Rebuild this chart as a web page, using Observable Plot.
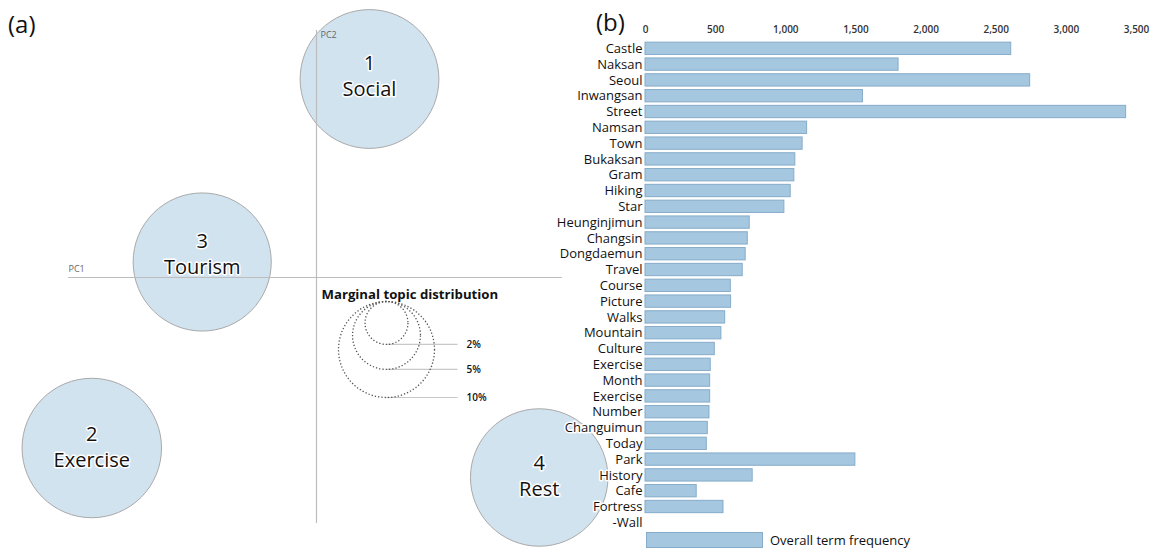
<!DOCTYPE html>
<html>
<head>
<meta charset="utf-8">
<script src="https://cdn.jsdelivr.net/npm/d3@7"></script>
<script src="https://cdn.jsdelivr.net/npm/@observablehq/plot@0.6"></script>
<style>
  html, body { margin: 0; padding: 0; background: white; }
  #wrap { position: relative; width: 1156px; height: 548px; overflow: hidden; font-family: "Open Sans", sans-serif; }
  #left, #right { position: absolute; top: 0; }
  #left { left: 0; }
  #right { left: 540px; }
  .panel { position: absolute; font-size: 24px; line-height: 1; color: #111; }
  #legend { position: absolute; left: 646px; top: 532px; height: 16px; display: flex; align-items: center; font-size: 13px; line-height: 14px; color: #111; }
  #legend .sw { width: 115px; height: 14px; background: #a5c7e0; border: 1px solid #86acc9; margin-right: 7px; }
</style>
</head>
<body>
<div id="wrap">
  <div id="left"></div>
  <div id="right"></div>
  <div class="panel" style="left:8px; top:12px;">(a)</div>
  <div class="panel" style="left:596px; top:10px;">(b)</div>
  <div id="legend"><div class="sw"></div><span>Overall term frequency</span></div>
</div>
<script>
// ---- Panel (a): intertopic distance map ----
const topicIds = [1, 2, 3, 4];
const topicNames = ["Social", "Exercise", "Tourism", "Rest"];
const topicPC1 = [0.053, -0.2247, -0.1143, 0.2227];
const topicPC2 = [0.1985, -0.1705, 0.0155, -0.200];
const topicShare = [0.209, 0.211, 0.207, 0.205];
const topicLabelShift = [-4, -2, -9, -3];

const legendShares = [0.10, 0.05, 0.02];
const legendLabels = ["10%", "5%", "2%"];
const legendX = 0.070;       // PC1 position of legend circles
const legendTop = -0.024;    // PC2 of the shared top of legend circles
const legendLineEnd = 0.141;
const legendTextX = 0.150;
const pc1Extent = [-0.248, 0.246];
const pc2Extent = [-0.246, 0.247];

// ---- Panel (b): term frequencies ----
const terms = ["Castle","Naksan","Seoul","Inwangsan","Street","Namsan","Town","Bukaksan","Gram","Hiking","Star","Heunginjimun","Changsin","Dongdaemun","Travel","Course","Picture","Walks","Mountain","Culture","Exercise","Month","Exercise","Number","Changuimun","Today","Park","History","Cafe","Fortress","-Wall"];
const freq = [2607,1804,2742,1550,3426,1152,1120,1068,1061,1035,990,743,729,714,693,608,610,568,541,494,465,461,461,456,444,437,1496,764,365,556,null];
const freqTicks = [0, 500, 1000, 1500, 2000, 2500, 3000, 3500];

const topics = topicIds.map((id, i) => ({id, name: topicNames[i], x: topicPC1[i], y: topicPC2[i], p: topicShare[i], shift: topicLabelShift[i], label: id + "\n" + topicNames[i]}));

const rDomain = [0, 0.1], rRange = [0, 48];
const rScale = d3.scaleSqrt().domain(rDomain).range(rRange);
const xDomain = [-0.316, 0.304], yDomain = [-0.271, 0.277];
const W = 620, H = 548;
const pxPerUnit = H / (yDomain[1] - yDomain[0]);
const legend = legendShares.map((p, i) => {
  const r = rScale(p) / pxPerUnit;
  return {p, label: legendLabels[i], x: legendX, y: legendTop - r, bottom: legendTop - 2 * r};
});

const left = Plot.plot({
  width: W, height: H,
  marginTop: 0, marginBottom: 0, marginLeft: 0, marginRight: 0,
  style: {background: "transparent", fontFamily: "Open Sans"},
  x: {domain: xDomain, axis: null},
  y: {domain: yDomain, axis: null},
  r: {type: "sqrt", domain: rDomain, range: rRange},
  marks: [
    Plot.dot(topics, {x: "x", y: "y", r: "p", fill: "#d2e3f0", stroke: "#a9a9a9", strokeWidth: 1, fillOpacity: 1}),
    Plot.ruleY([0], {x1: pc1Extent[0], x2: pc1Extent[1], stroke: "#bdbdbd", strokeWidth: 1.2}),
    Plot.ruleX([0], {y1: pc2Extent[0], y2: pc2Extent[1], stroke: "#bdbdbd", strokeWidth: 1.2}),
    Plot.text(["PC1"], {x: pc1Extent[0], y: 0, dy: -8, text: d => d, textAnchor: "start", fontSize: 9, fill: "#666"}),
    Plot.text(["PC2"], {x: 0, y: pc2Extent[1], dx: 4, dy: 5, text: d => d, textAnchor: "start", fontSize: 9, fill: "#666"}),
    ...topics.map(t => Plot.text([t], {x: "x", y: "y", text: "label", dy: t.shift, fontSize: 20, lineHeight: 1.3, fill: "#111", stroke: "white", strokeWidth: 3})),
    Plot.text(["Marginal topic distribution"], {x: 0.005, y: legendTop, dy: -7, text: d => d, textAnchor: "start", fontSize: 13.2, fontWeight: "bold", fill: "#111"}),
    Plot.link(legend, {x1: "x", y1: "bottom", x2: legendLineEnd, y2: "bottom", stroke: "#c8c8c8", strokeWidth: 1.2}),
    Plot.dot(legend, {x: "x", y: "y", r: "p", fill: "none", stroke: "#555", strokeWidth: 1.3, strokeDasharray: "1.3,2"}),
    Plot.text(legend, {x: legendTextX, y: "bottom", text: "label", textAnchor: "start", fontSize: 10, fontWeight: 600, fill: "#111"})
  ]
});
document.getElementById("left").appendChild(left);

const rows = terms.map((t, i) => ({i, term: t, value: freq[i]}));
const right = Plot.plot({
  width: 616, height: 532,
  marginTop: 40.4, marginBottom: 1.8, marginLeft: 105, marginRight: 20,
  style: {background: "transparent", fontFamily: "Open Sans"},
  x: {domain: [0, 3500], axis: null},
  y: {domain: d3.range(terms.length), axis: null, paddingInner: 0.22, paddingOuter: 0.11, round: false},
  marks: [
    Plot.axisX({anchor: "top", ticks: freqTicks, tickFormat: d3.format(","), tickSize: 0, tickPadding: 8, fontSize: 10, fontWeight: 600, fill: "#333", label: null}),
    Plot.barX(rows.filter(d => d.value != null), {x: "value", y: "i", fill: "#a5c7e0", stroke: "#86acc9", strokeWidth: 1}),
    Plot.text(rows, {y: "i", text: "term", frameAnchor: "left", textAnchor: "end", dx: -3, fontSize: 13, fill: "#111", stroke: "white", strokeWidth: 3})
  ]
});
document.getElementById("right").appendChild(right);
</script>
</body>
</html>
